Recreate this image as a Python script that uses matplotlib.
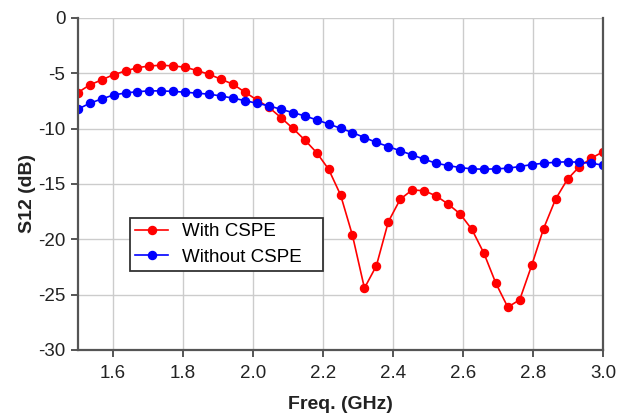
import numpy as np
import matplotlib
matplotlib.use('Agg')
from matplotlib import pyplot as plt

plt.rcParams['font.family'] = ['Liberation Sans', 'DejaVu Sans']

# 45 frequency points evenly spread over 1.5 - 3.0 GHz
freq = np.linspace(1.5, 3.0, 45)

# S12 with the CSPE structure (dB)
s12_with = [-6.75, -6.05, -5.60, -5.12, -4.79, -4.49, -4.34, -4.27, -4.34,
            -4.45, -4.76, -5.09, -5.54, -5.99, -6.71, -7.41, -8.07, -9.00,
            -9.97, -11.02, -12.17, -13.67, -15.99, -19.66, -24.42, -22.40,
            -18.42, -16.38, -15.54, -15.62, -16.08, -16.82, -17.70, -19.12,
            -21.26, -23.97, -26.14, -25.47, -22.37, -19.03, -16.38, -14.57,
            -13.43, -12.67, -12.08]

# S12 without CSPE (dB)
s12_without = [-8.25, -7.71, -7.32, -6.96, -6.78, -6.66, -6.59, -6.59, -6.64,
               -6.71, -6.80, -6.89, -7.05, -7.25, -7.47, -7.71, -7.94, -8.25,
               -8.55, -8.85, -9.21, -9.58, -9.97, -10.36, -10.81, -11.25,
               -11.62, -12.01, -12.38, -12.77, -13.13, -13.34, -13.52, -13.64,
               -13.67, -13.64, -13.58, -13.43, -13.25, -13.13, -13.04, -13.00,
               -13.04, -13.13, -13.31]

xticks = [1.6, 1.8, 2.0, 2.2, 2.4, 2.6, 2.8, 3.0]
yticks = [0, -5, -10, -15, -20, -25, -30]

fig = plt.figure(figsize=(6.22, 4.18), dpi=100)
ax = fig.add_axes([0.125, 0.163, 0.845, 0.794])

ax.plot(freq, s12_with, color='#ff0000', lw=1.2, marker='o', ms=5.8,
        mec='#ff0000', label='With CSPE')
ax.plot(freq, s12_without, color='#0000ff', lw=1.2, marker='o', ms=5.8,
        mec='#0000ff', label='Without CSPE')

ax.set_xlim(1.5, 3.0)
ax.set_ylim(-30, 0)
ax.set_xticks(xticks)
ax.set_xticklabels(['%.1f' % t for t in xticks])
ax.set_yticks(yticks)
ax.set_yticklabels([str(t) for t in yticks])
ax.grid(True, color='#cccccc', lw=1.0)
ax.set_axisbelow(True)

for side in ['left', 'bottom', 'right']:
    ax.spines[side].set_color('#555555')
    ax.spines[side].set_linewidth(1.6)
ax.spines['top'].set_visible(False)
ax.tick_params(axis='both', which='both', direction='out', length=5,
               width=1.4, color='#555555', labelsize=13.5,
               labelcolor='#222222', pad=4)
ax.tick_params(axis='x', pad=6)

ax.set_xlabel('Freq. (GHz)', fontsize=14, fontweight='bold',
              color='#222222', labelpad=10)
ax.set_ylabel('S12 (dB)', fontsize=14, fontweight='bold',
              color='#222222', labelpad=3)
ax.yaxis.set_label_coords(-0.08, 0.47)

# legend box stretched to a fixed width (mode='expand')
leg = ax.legend(loc='lower left', bbox_to_anchor=(0.0995, 0.239, 0.367, 0.15),
                mode='expand', borderaxespad=0, fontsize=13.5, fancybox=False,
                edgecolor='#333333', framealpha=1, handlelength=1.8,
                handletextpad=0.7, borderpad=0.25, labelspacing=0.45)
leg.get_frame().set_linewidth(1.3)

fig.savefig('out.png', dpi=100)
